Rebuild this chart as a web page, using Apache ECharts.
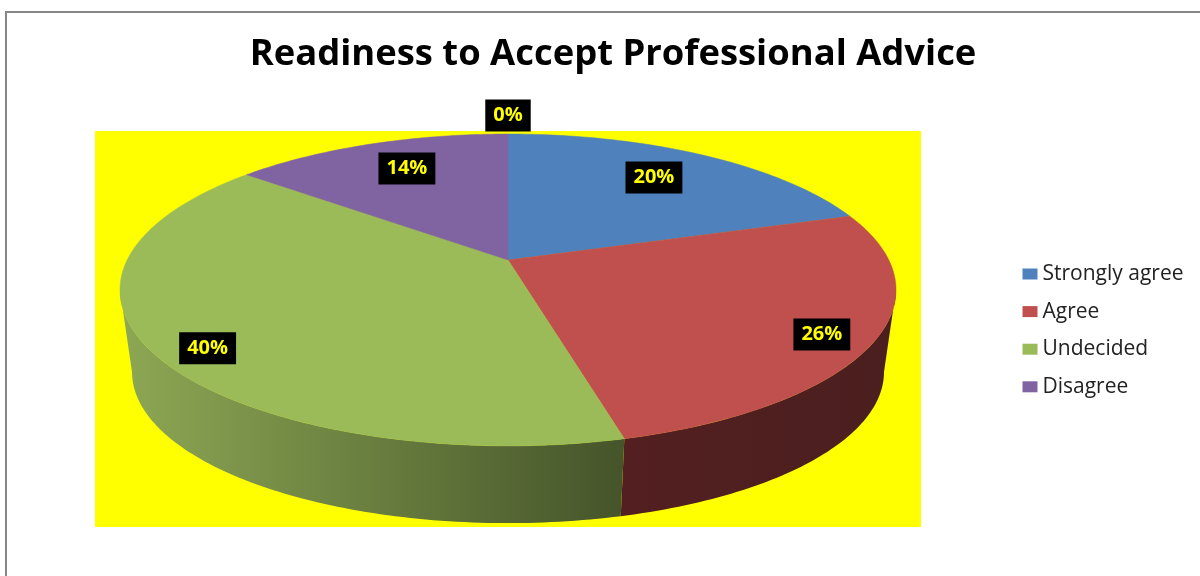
<!DOCTYPE html>
<html><head><meta charset="utf-8">
<style>html,body{margin:0;padding:0;background:#fff}#c{width:1200px;height:576px}</style>
<script src="https://cdn.jsdelivr.net/npm/echarts@6/dist/echarts.min.js"></script>
</head><body><div id="c"></div>
<script>
// data
const categories = ['Strongly agree', 'Agree', 'Undecided', 'Disagree', 'No answer'];
const legendNames = ['Strongly agree', 'Agree', 'Undecided', 'Disagree'];
const values = [20, 26, 40, 14, 0];
const chartTitle = 'Readiness to Accept Professional Advice';

// look
const colors = ['#4f81bd', '#c0504d', '#9bbb59', '#8064a2', '#4bacc6'];
const wallStops = {
  1: ['#531f20', '#4b1f1f'],
  2: ['#8da854', '#45542a']
};
const labelRadius = [0.76, 0.875, 0.88, 0.765, 1.195];
const labelTurn = [-1.6, 1.7, -3.8, 2, 0];

// perspective model of the disc
const view = {cx: 508, cy: 260, A: 380.8, B: 150.2, p: 0.192, drop: 83, shrink: 0.969};
const total = values.reduce((a, b) => a + b, 0);
const rad = d => d * Math.PI / 180;
function project(deg, r, low) {
  const u = r * Math.sin(rad(deg)), v = r * Math.cos(rad(deg));
  const w = 1 + view.p * v;
  const s = low ? view.shrink : 1;
  return [view.cx + s * view.A * u / w, view.cy + (low ? view.drop : 0) - s * view.B * v / w];
}
function arc(a0, a1, low) {
  const pts = [], n = Math.max(1, Math.ceil(Math.abs(a1 - a0)));
  for (let i = 0; i <= n; i++) pts.push(project(a0 + (a1 - a0) * i / n, 1, low));
  return pts;
}
const wallFrom = 90 + Math.asin(view.p) * 180 / Math.PI;
const wallTo = 360 - wallFrom;

function renderSlice(params, api) {
  const idx = params.seriesIndex;
  const val = api.value(0);
  let before = 0;
  for (let i = 0; i < idx; i++) before += values[i];
  const a0 = before / total * 360, a1 = (before + val) / total * 360;
  const children = [];
  const wa = Math.max(a0, wallFrom), wb = Math.min(a1, wallTo);
  if (wb > wa && wallStops[idx]) {
    children.push({
      type: 'polygon', z2: 1,
      shape: {points: arc(wa, wb, false).concat(arc(wb, wa, true))},
      style: {fill: {type: 'linear', global: true, x: project(wb, 1)[0], y: 0, x2: project(wa, 1)[0], y2: 0,
        colorStops: [{offset: 0, color: wallStops[idx][0]}, {offset: 1, color: wallStops[idx][1]}]}}
    });
  }
  if (a1 > a0) {
    children.push({
      type: 'polygon', z2: 2,
      shape: {points: [project(0, 0)].concat(arc(a0, a1, false))},
      style: {fill: colors[idx], stroke: colors[idx], lineWidth: 0.5}
    });
  }
  const lp = project((a0 + a1) / 2 + labelTurn[idx], labelRadius[idx]);
  children.push({
    type: 'text', z2: 5,
    style: {
      x: lp[0], y: lp[1] + 1.5, text: Math.round(val / total * 100) + '%',
      align: 'center', verticalAlign: 'middle',
      fill: '#ffff00', backgroundColor: '#000',
      font: 'bold 20px "Open Sans", sans-serif', padding: [6, 8, 6, 8]
    }
  });
  return {type: 'group', children};
}

const chart = echarts.init(document.getElementById('c'), null, {renderer: 'canvas'});
chart.setOption({
  animation: false,
  backgroundColor: '#fff',
  title: {
    text: chartTitle, left: 608, top: 32, textAlign: 'center',
    textStyle: {fontFamily: '"Open Sans"', fontWeight: 'bold', fontSize: 36.4, color: '#000'}
  },
  legend: {
    data: legendNames, orient: 'vertical', left: 1017.5, top: 258.5,
    icon: 'rect', itemWidth: 15, itemHeight: 11, itemGap: 16.6,
    textStyle: {fontFamily: '"Open Sans"', fontSize: 21, color: '#222'},
    selectedMode: false
  },
  graphic: [
    {type: 'rect', silent: true, z: -10, shape: {x: 6, y: 12, width: 1400, height: 800},
      style: {fill: '#fff', stroke: '#868686', lineWidth: 2}},
    {type: 'rect', silent: true, z: -9, shape: {x: 95, y: 131, width: 826, height: 396},
      style: {fill: '#ffff00'}}
  ],
  series: categories.map((name, i) => ({
    type: 'custom', name, coordinateSystem: 'none', silent: true,
    itemStyle: {color: colors[i]},
    data: [[values[i]]], renderItem: renderSlice
  }))
});
</script></body></html>
